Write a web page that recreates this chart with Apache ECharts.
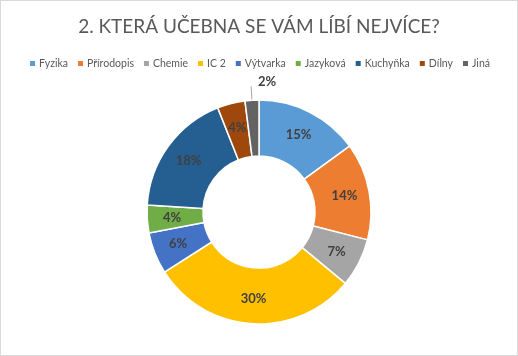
<!DOCTYPE html>
<html><head><meta charset="utf-8">
<script src="https://cdn.jsdelivr.net/npm/echarts@6/dist/echarts.min.js"></script>
<style>
html,body{margin:0;padding:0;background:#fff;}
#c{position:absolute;left:0;top:0;width:516px;height:354px;border:1px solid #d9d9d9;}
</style></head>
<body><div id="c"></div>
<script>
const categories = ["Fyzika","Přírodopis","Chemie","IC 2","Výtvarka","Jazyková","Kuchyňka","Dílny","Jiná"];
const values = [15,14,7,30,6,4,18,4,2];
const colors = ["#5B9BD5","#ED7D31","#A5A5A5","#FFC000","#4472C4","#70AD47","#255E91","#9E480E","#636363"];
const titleText = "2. KTERÁ UČEBNA SE VÁM LÍBÍ NEJVÍCE?";

const font = "Lato, 'Open Sans', sans-serif";
const data = categories.map((n,i)=>{
  const d = {name:n, value:values[i], itemStyle:{color:colors[i]}};
  if (n === "Jiná") {
    d.label = {position:'outside', distance:4};
    d.labelLine = {show:true, length:14, length2:0, lineStyle:{color:'#a6a6a6', width:1}};
  }
  return d;
});
const chart = echarts.init(document.getElementById('c'), null, {renderer:'canvas'});
chart.setOption({
  animation:false,
  color: colors,
  title:{text:titleText, left:'center', top:11,
    textStyle:{fontFamily:font, fontSize:19, fontWeight:'normal', color:'#595959'}},
  legend:{top:52, left:'center', itemWidth:7, itemHeight:7, itemGap:8,
    icon:'rect',
    textStyle:{fontFamily:font, fontSize:10.5, color:'#595959', padding:[0,0,0,-2]},
    data:categories},
  series:[{
    type:'pie', center:[258,211], radius:[56,112], startAngle:90, clockwise:true,
    avoidLabelOverlap:false,
    itemStyle:{borderColor:'#fff', borderWidth:1.5},
    label:{show:true, position:'inside', formatter:'{c}%',
      fontFamily:font, fontSize:13, fontWeight:'bold', color:'#404040'},
    labelLine:{show:false},
    labelLayout:function(p){
      if (p.dataIndex === categories.length-1) return {dx:30, dy:-4};
      return {};
    },
    data:data
  }]
});
</script></body></html>
